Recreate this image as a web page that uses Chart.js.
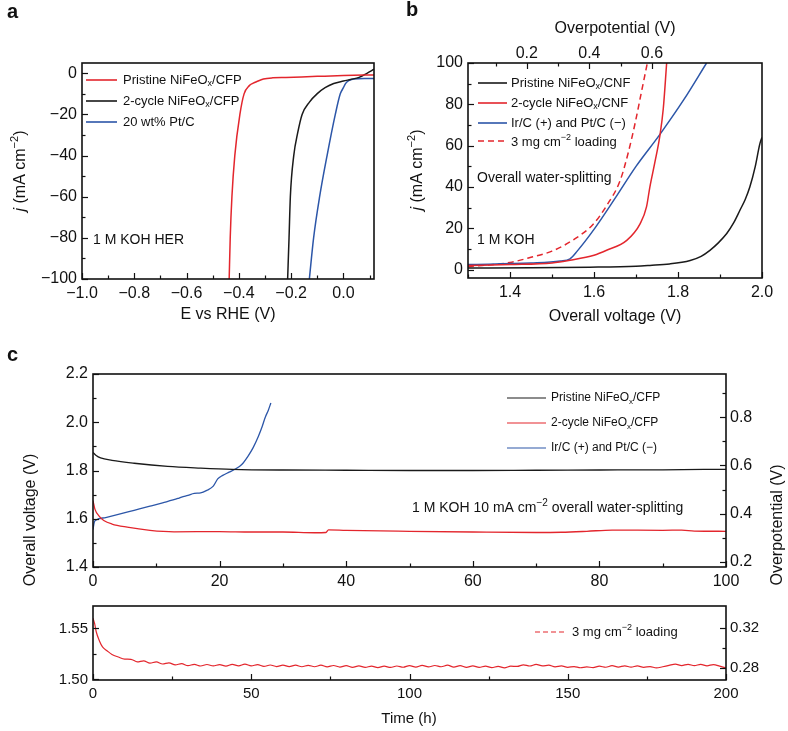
<!DOCTYPE html>
<html>
<head>
<meta charset="utf-8">
<script src="https://cdn.jsdelivr.net/npm/chart.js@4"></script>
<style>
  body { margin: 0; background: #fff; }
  #wrap { position: relative; width: 788px; height: 731px; overflow: hidden; background: #fff; }
  canvas { position: absolute; }
</style>
</head>
<body>
<div id="wrap">
  <canvas id="ca" width="390" height="330" style="left:0;top:0"></canvas>
  <canvas id="cb" width="398" height="330" style="left:390px;top:0"></canvas>
  <canvas id="cc" width="788" height="290" style="left:0;top:330px"></canvas>
  <canvas id="cd" width="788" height="139" style="left:0;top:592px"></canvas>
</div>
<script>
const FONT = '"Liberation Sans", Arial, sans-serif';
const NARROW = '"Liberation Sans Narrow", "Liberation Sans", sans-serif';
const RED = '#e3262d', BLUE = '#2c56a8', BLACK = '#1a1a1a';

// a: HER polarisation, E vs RHE (V) / j (mA cm-2)
const hmPristineE = [-0.437, -0.433, -0.4265, -0.4155, -0.396, -0.38, -0.36, -0.345, -0.331, -0.306, -0.27, -0.22, -0.1, 0.0, 0.117];
const hmPristineJ = [-100, -80, -60, -40, -20, -10, -6, -4.8, -4, -2.8, -2.2, -2, -1.5, -1.1, -0.8];
const hmCycleE = [-0.2134, -0.208, -0.203, -0.19, -0.175, -0.158, -0.13, -0.101, -0.07, -0.037, 0.0, 0.027, 0.06, 0.09, 0.117];
const hmCycleJ = [-100, -80, -60, -40, -29, -20, -14, -10, -7, -5, -3.8, -3, -2, 0, 2];
const hmPtE = [-0.1303, -0.114, -0.091, -0.0625, -0.031, -0.012, 0.0, 0.008, 0.02, 0.04, 0.08, 0.117];
const hmPtJ = [-100, -80, -60, -40, -20, -10, -7, -5, -3.6, -2.8, -2.5, -2.5];

// b: overall water splitting, overall voltage (V) / j (mA cm-2)
const owPristineV = [1.3, 1.45, 1.59, 1.7, 1.733, 1.78, 1.829, 1.855, 1.876, 1.896, 1.916, 1.932, 1.948, 1.96, 1.971, 1.984, 1.995, 2.0];
const owPristineJ = [0.8, 0.9, 1.2, 1.7, 2.1, 2.8, 4.5, 6.5, 9.4, 13, 17.5, 22.5, 29, 34, 40, 50, 61, 64];
const owCycleV = [1.3, 1.4, 1.5, 1.543, 1.6, 1.63, 1.678, 1.71, 1.725, 1.733, 1.745, 1.757, 1.765, 1.773];
const owCycleJ = [2, 2.5, 3.3, 4.6, 7, 9.4, 14.2, 22.3, 30.4, 40, 52, 65, 78, 100];
const owIrPtV = [1.3, 1.45, 1.52, 1.543, 1.56, 1.6, 1.65, 1.7, 1.757, 1.813, 1.868];
const owIrPtJ = [2.5, 3.2, 4.2, 5.3, 9, 19.5, 34.5, 50, 65.5, 82, 100];
const owLoadV = [1.3, 1.4, 1.45, 1.5, 1.551, 1.598, 1.63, 1.662, 1.682, 1.698, 1.712, 1.727];
const owLoadJ = [1.5, 3.5, 6, 9, 14.5, 22, 31, 43, 57, 71, 85, 100];

// c: stability at 10 mA cm-2, time (h) / overall voltage (V)
const stPristineT = [0, 0.5, 1.2, 3, 6.5, 11.8, 17, 22, 30, 40, 50, 60, 70, 80, 90, 100];
const stPristineV = [1.875, 1.862, 1.852, 1.842, 1.83, 1.817, 1.81, 1.805, 1.802, 1.801, 1.8, 1.8, 1.801, 1.802, 1.803, 1.805];
const stCycleT = [0, 0.3, 1, 1.7, 3, 5.4, 9, 12.8, 20, 25, 30, 35, 36.8, 37.2, 40, 50, 60, 70, 74, 78, 82, 90, 93, 95, 100];
const stCycleV = [1.675, 1.64, 1.61, 1.593, 1.578, 1.565, 1.552, 1.546, 1.547, 1.545, 1.545, 1.542, 1.543, 1.554, 1.552, 1.548, 1.545, 1.543, 1.544, 1.548, 1.553, 1.552, 1.553, 1.549, 1.548];
const stIrPtT = [0, 0.2, 0.5, 2, 4, 6.5, 9, 11, 13.4, 14, 15, 16, 17, 18, 19, 19.7, 20.5, 21.5, 22.4, 23.5, 24.5, 25.3, 26.1, 26.7, 27.2, 27.7, 28.1];
const stIrPtV = [1.555, 1.585, 1.595, 1.605, 1.618, 1.635, 1.652, 1.666, 1.684, 1.69, 1.697, 1.705, 1.707, 1.718, 1.735, 1.765, 1.78, 1.793, 1.805, 1.825, 1.86, 1.895, 1.94, 1.98, 2.02, 2.05, 2.08];

// c (lower): 3 mg cm-2 loading, 200 h
const ltTime = [0, 0.5, 1, 2, 3, 4.5, 6, 8, 10,
  12, 14, 16, 18, 20, 22, 24, 26, 28, 30, 32, 34, 36, 38, 40, 42, 44, 46, 48, 50,
  52, 54, 56, 58, 60, 62, 64, 66, 68, 70, 72, 74, 76, 78, 80, 82, 84, 86, 88, 90,
  92, 94, 96, 98, 100, 102, 104, 106, 108, 110, 112, 114, 116, 118, 120, 122, 124, 126, 128, 130,
  132, 134, 136, 138, 140, 142, 144, 146, 148, 150, 152, 154, 156, 158, 160, 162, 164, 166, 168, 170,
  172, 174, 176, 178, 180, 182, 184, 186, 188, 190, 192, 194, 196, 198, 200];
const ltVolt = [1.5600, 1.5550, 1.5470, 1.5380, 1.5320, 1.5280, 1.5245, 1.5220, 1.5200,
  1.5198, 1.5172, 1.5183, 1.5160, 1.5172, 1.5152, 1.5163, 1.5143, 1.5155, 1.5135, 1.5148, 1.5132, 1.5147, 1.5133, 1.5146, 1.5131, 1.5148, 1.5133, 1.5150, 1.5134,
  1.5145, 1.5128, 1.5142, 1.5127, 1.5141, 1.5126, 1.5140, 1.5125, 1.5139, 1.5125, 1.5140, 1.5124, 1.5137, 1.5122, 1.5135, 1.5119, 1.5133, 1.5118, 1.5131, 1.5116,
  1.5130, 1.5118, 1.5132, 1.5120, 1.5136, 1.5122, 1.5138, 1.5123, 1.5137, 1.5125, 1.5140, 1.5122, 1.5135, 1.5119, 1.5133, 1.5118, 1.5131, 1.5116, 1.5129, 1.5114,
  1.5130, 1.5128, 1.5144, 1.5132, 1.5148, 1.5133, 1.5140, 1.5124, 1.5133, 1.5119, 1.5127, 1.5115, 1.5124, 1.5116, 1.5130, 1.5120, 1.5135, 1.5122, 1.5134, 1.5121,
  1.5133, 1.5119, 1.5127, 1.5113, 1.5125, 1.5138, 1.5150, 1.5136, 1.5149, 1.5135, 1.5148, 1.5134, 1.5146, 1.5131, 1.5112];

// ticks (minor ones get no label)
const aXTicks = [-1.0, -0.9, -0.8, -0.7, -0.6, -0.5, -0.4, -0.3, -0.2, -0.1, 0.0, 0.1];
const aXMajor = [-1.0, -0.8, -0.6, -0.4, -0.2, 0.0];
const aXLabels = ['\u22121.0', '\u22120.8', '\u22120.6', '\u22120.4', '\u22120.2', '0.0'];
const aYTicks = [0, -10, -20, -30, -40, -50, -60, -70, -80, -90, -100];
const aYMajor = [0, -20, -40, -60, -80, -100];
const aYLabels = ['0', '\u221220', '\u221240', '\u221260', '\u221280', '\u2212100'];
const bXTicks = [1.3, 1.4, 1.5, 1.6, 1.7, 1.8, 1.9, 2.0];
const bXMajor = [1.4, 1.6, 1.8, 2.0];
const bXLabels = ['1.4', '1.6', '1.8', '2.0'];
const bTopTicks = [0.1, 0.2, 0.3, 0.4, 0.5, 0.6];
const bTopMajor = [0.2, 0.4, 0.6];
const bTopLabels = ['0.2', '0.4', '0.6'];
const bYTicks = [0, 10, 20, 30, 40, 50, 60, 70, 80, 90, 100];
const bYMajor = [0, 20, 40, 60, 80, 100];
const bYLabels = ['0', '20', '40', '60', '80', '100'];
const cXTicks = [0, 10, 20, 30, 40, 50, 60, 70, 80, 90, 100];
const cXMajor = [0, 20, 40, 60, 80, 100];
const cXLabels = ['0', '20', '40', '60', '80', '100'];
const cYTicks = [1.4, 1.5, 1.6, 1.7, 1.8, 1.9, 2.0, 2.1, 2.2];
const cYMajor = [1.4, 1.6, 1.8, 2.0, 2.2];
const cYLabels = ['1.4', '1.6', '1.8', '2.0', '2.2'];
const cRTicks = [0.2, 0.3, 0.4, 0.5, 0.6, 0.7, 0.8, 0.9];
const cRMajor = [0.2, 0.4, 0.6, 0.8];
const cRLabels = ['0.2', '0.4', '0.6', '0.8'];
const dXTicks = [0, 25, 50, 75, 100, 125, 150, 175, 200];
const dXMajor = [0, 50, 100, 150, 200];
const dXLabels = ['0', '50', '100', '150', '200'];
const dYTicks = [1.5, 1.525, 1.55];
const dYMajor = [1.5, 1.55];
const dYLabels = ['1.50', '1.55'];
const dRTicks = [0.28, 0.30, 0.32];
const dRMajor = [0.28, 0.32];
const dRLabels = ['0.28', '0.32'];

function pts(xs, ys) { return xs.map((x, i) => ({ x: x, y: ys[i] })); }

function line(label, xs, ys, color, extra) {
  return Object.assign({
    label: label, data: pts(xs, ys), borderColor: color, borderWidth: 1.5,
    pointRadius: 0, fill: false, tension: 0.3, cubicInterpolationMode: 'monotone'
  }, extra || {});
}

function axis(pos, min, max, vals, majors, labels, opts) {
  opts = opts || {};
  const s = {
    type: 'linear', position: pos, min: min, max: max,
    grid: { display: false, drawTicks: false },
    border: { display: false },
    afterBuildTicks: sc => { sc.ticks = vals.map(v => ({ value: v })); },
    ticks: {
      autoSkip: false, maxRotation: 0, padding: opts.pad == null ? 5 : opts.pad, color: '#111',
      font: { family: opts.family || FONT, size: opts.size || 16 },
      callback: v => {
        const i = majors.findIndex(m => Math.abs(m - v) < 1e-6);
        return i < 0 ? '' : labels[i];
      }
    }
  };
  if (opts.w != null) s.afterFit = sc => { sc.width = opts.w; };
  if (opts.h != null) s.afterFit = sc => { sc.height = opts.h; };
  return s;
}

function fontFor(mode, size, family, bold) {
  const s = (mode === 'sub' || mode === 'sup') ? Math.round(size * 0.7) : size;
  return (mode === 'i' ? 'italic ' : '') + (bold ? 'bold ' : '') + s + 'px ' + family;
}

function drawRich(ctx, parts, x, y, o) {
  const size = o.size || 13, fam = o.family || FONT;
  const list = parts.map(p => typeof p === 'string' ? [p, ''] : p);
  let w = 0;
  list.forEach(p => { ctx.font = fontFor(p[1], size, fam, o.bold); w += ctx.measureText(p[0]).width; });
  ctx.save();
  ctx.translate(x, y);
  if (o.rot) ctx.rotate(o.rot);
  let cx = o.align === 'center' ? -w / 2 : (o.align === 'right' ? -w : 0);
  ctx.textBaseline = 'middle';
  ctx.fillStyle = '#111';
  list.forEach(p => {
    ctx.font = fontFor(p[1], size, fam, o.bold);
    const dy = p[1] === 'sub' ? size * 0.3 : (p[1] === 'sup' ? -size * 0.35 : 0);
    ctx.fillText(p[0], cx, dy);
    cx += ctx.measureText(p[0]).width;
  });
  ctx.restore();
}

// inward tick marks, frame, legends and notes
function decor(items) {
  return {
    id: 'decor',
    afterDraw(chart) {
      const ctx = chart.ctx, a = chart.chartArea;
      ctx.save();
      ctx.strokeStyle = '#111';
      ctx.lineWidth = 1.2;
      Object.values(chart.scales).forEach(s => {
        s.ticks.forEach(t => {
          const len = t.label === '' ? 3.5 : 6;
          const p = Math.round(s.getPixelForValue(t.value)) + 0.5;
          ctx.beginPath();
          if (s.position === 'left') { ctx.moveTo(a.left, p); ctx.lineTo(a.left + len, p); }
          if (s.position === 'right') { ctx.moveTo(a.right, p); ctx.lineTo(a.right - len, p); }
          if (s.position === 'bottom') { ctx.moveTo(p, a.bottom); ctx.lineTo(p, a.bottom - len); }
          if (s.position === 'top') { ctx.moveTo(p, a.top); ctx.lineTo(p, a.top + len); }
          ctx.stroke();
        });
      });
      ctx.lineWidth = 1.6;
      ctx.strokeRect(a.left, a.top, a.right - a.left, a.bottom - a.top);
      ctx.restore();
      items.forEach(it => {
        if (it.kind === 'key') {
          ctx.save();
          ctx.strokeStyle = it.color;
          ctx.lineWidth = it.lw || 1.6;
          ctx.setLineDash(it.dash || []);
          ctx.beginPath();
          ctx.moveTo(it.x1, it.y);
          ctx.lineTo(it.x2, it.y);
          ctx.stroke();
          ctx.restore();
        } else {
          drawRich(ctx, it.parts, it.x, it.y, it);
        }
      });
    }
  };
}

function baseOptions(scales, padding) {
  return {
    responsive: false, animation: false, devicePixelRatio: 1,
    layout: { padding: padding },
    plugins: { legend: { display: false }, tooltip: { enabled: false } },
    elements: { point: { radius: 0 } },
    scales: scales
  };
}

const UP = -Math.PI / 2;

// panel a
new Chart(document.getElementById('ca'), {
  type: 'line',
  data: { datasets: [
    line('Pristine NiFeOx/CFP', hmPristineE, hmPristineJ, RED),
    line('2-cycle NiFeOx/CFP', hmCycleE, hmCycleJ, BLACK),
    line('20 wt% Pt/C', hmPtE, hmPtJ, BLUE)
  ] },
  options: baseOptions({
    x: axis('bottom', -1.0, 0.117, aXTicks, aXMajor, aXLabels, { h: 51, pad: 5 }),
    y: axis('left', -100, 5, aYTicks, aYMajor, aYLabels, { w: 82, pad: 5 })
  }, { top: 63, right: 16, left: 0, bottom: 0 }),
  plugins: [decor([
    { kind: 'key', x1: 86, x2: 117, y: 80, color: RED },
    { kind: 'key', x1: 86, x2: 117, y: 101, color: BLACK },
    { kind: 'key', x1: 86, x2: 117, y: 122, color: BLUE },
    { parts: ['Pristine NiFeO', ['x', 'sub'], '/CFP'], x: 123, y: 80, size: 13 },
    { parts: ['2-cycle NiFeO', ['x', 'sub'], '/CFP'], x: 123, y: 101, size: 13 },
    { parts: ['20 wt% Pt/C'], x: 123, y: 122, size: 13 },
    { parts: ['1 M KOH HER'], x: 93, y: 240, size: 14 },
    { parts: ['a'], x: 7, y: 12, size: 20, bold: true },
    { parts: [['j', 'i'], ' (mA cm', ['\u22122', 'sup'], ')'], x: 21, y: 171, size: 16, align: 'center', rot: UP },
    { parts: ['E vs RHE (V)'], x: 228, y: 315, size: 16, align: 'center' }
  ])]
});

// panel b
new Chart(document.getElementById('cb'), {
  type: 'line',
  data: { datasets: [
    line('Pristine NiFeOx/CNF', owPristineV, owPristineJ, BLACK),
    line('2-cycle NiFeOx/CNF', owCycleV, owCycleJ, RED),
    line('Ir/C (+) and Pt/C (\u2212)', owIrPtV, owIrPtJ, BLUE),
    line('3 mg cm-2 loading', owLoadV, owLoadJ, RED, { borderDash: [6, 4] })
  ] },
  options: baseOptions({
    x: axis('bottom', 1.3, 2.0, bXTicks, bXMajor, bXLabels, { h: 52, pad: 5 }),
    x2: axis('top', 0.012, 0.952, bTopTicks, bTopMajor, bTopLabels, { h: 63, pad: 0 }),
    y: axis('left', -4, 100, bYTicks, bYMajor, bYLabels, { w: 78, pad: 5 })
  }, { top: 0, right: 26, left: 0, bottom: 0 }),
  plugins: [decor([
    { kind: 'key', x1: 88, x2: 117, y: 83, color: BLACK },
    { kind: 'key', x1: 88, x2: 117, y: 103, color: RED },
    { kind: 'key', x1: 88, x2: 117, y: 123, color: BLUE },
    { kind: 'key', x1: 88, x2: 117, y: 141, color: RED, dash: [6, 4] },
    { parts: ['Pristine NiFeO', ['x', 'sub'], '/CNF'], x: 121, y: 83, size: 13 },
    { parts: ['2-cycle NiFeO', ['x', 'sub'], '/CNF'], x: 121, y: 103, size: 13 },
    { parts: ['Ir/C (+) and Pt/C (\u2212)'], x: 121, y: 123, size: 13 },
    { parts: ['3 mg cm', ['\u22122', 'sup'], ' loading'], x: 121, y: 142, size: 13 },
    { parts: ['Overall water-splitting'], x: 87, y: 178, size: 14 },
    { parts: ['1 M KOH'], x: 87, y: 240, size: 14 },
    { parts: ['b'], x: 16, y: 10, size: 20, bold: true },
    { parts: [['j', 'i'], ' (mA cm', ['\u22122', 'sup'], ')'], x: 28, y: 170, size: 16, align: 'center', rot: UP },
    { parts: ['Overpotential (V)'], x: 225, y: 29, size: 16, align: 'center' },
    { parts: ['Overall voltage (V)'], x: 225, y: 317, size: 16, align: 'center' }
  ])]
});

// panel c, upper
new Chart(document.getElementById('cc'), {
  type: 'line',
  data: { datasets: [
    line('Pristine NiFeOx/CFP', stPristineT, stPristineV, BLACK, { borderWidth: 1.3 }),
    line('2-cycle NiFeOx/CFP', stCycleT, stCycleV, RED, { borderWidth: 1.3, tension: 0 }),
    line('Ir/C (+) and Pt/C (\u2212)', stIrPtT, stIrPtV, BLUE, { borderWidth: 1.3 })
  ] },
  options: baseOptions({
    x: axis('bottom', 0, 100, cXTicks, cXMajor, cXLabels, { h: 53, pad: 5 }),
    y: axis('left', 1.4, 2.2, cYTicks, cYMajor, cYLabels, { w: 93, pad: 5 }),
    y2: axis('right', 0.179, 0.979, cRTicks, cRMajor, cRLabels, { w: 62, pad: 4 })
  }, { top: 44, right: 0, left: 0, bottom: 0 }),
  plugins: [decor([
    { kind: 'key', x1: 507, x2: 546, y: 68, color: BLACK, lw: 1.2 },
    { kind: 'key', x1: 507, x2: 546, y: 93, color: RED, lw: 1.2 },
    { kind: 'key', x1: 507, x2: 546, y: 118, color: BLUE, lw: 1.2 },
    { parts: ['Pristine NiFeO', ['x', 'sub'], '/CFP'], x: 551, y: 68, size: 12 },
    { parts: ['2-cycle NiFeO', ['x', 'sub'], '/CFP'], x: 551, y: 93, size: 12 },
    { parts: ['Ir/C (+) and Pt/C (\u2212)'], x: 551, y: 118, size: 12 },
    { parts: ['1 M KOH 10 mA cm', ['\u22122', 'sup'], ' overall water-splitting'], x: 412, y: 178, size: 14 },
    { parts: ['c'], x: 7, y: 25, size: 20, bold: true },
    { parts: ['Overall voltage (V)'], x: 31, y: 190, size: 16, align: 'center', rot: UP },
    { parts: ['Overpotential (V)'], x: 778, y: 195, size: 16, align: 'center', rot: UP }
  ])]
});

// panel c, lower
new Chart(document.getElementById('cd'), {
  type: 'line',
  data: { datasets: [
    line('3 mg cm-2 loading', ltTime, ltVolt, RED, { borderWidth: 1.2, tension: 0.2 })
  ] },
  options: baseOptions({
    x: axis('bottom', 0, 200, dXTicks, dXMajor, dXLabels, { h: 51, pad: 5, size: 15, family: NARROW }),
    y: axis('left', 1.4995, 1.572, dYTicks, dYMajor, dYLabels, { w: 93, pad: 5, size: 15, family: NARROW }),
    y2: axis('right', 0.2684, 0.3413, dRTicks, dRMajor, dRLabels, { w: 62, pad: 4, size: 15, family: NARROW })
  }, { top: 6, right: 0, left: 0, bottom: 0 }),
  plugins: [decor([
    { kind: 'key', x1: 535, x2: 567, y: 40, color: RED, lw: 1.2, dash: [5, 3] },
    { parts: ['3 mg cm', ['\u22122', 'sup'], ' loading'], x: 572, y: 40, size: 13, family: NARROW },
    { parts: ['Time (h)'], x: 409, y: 127, size: 15, family: NARROW, align: 'center' }
  ])]
});
</script>
</body>
</html>
